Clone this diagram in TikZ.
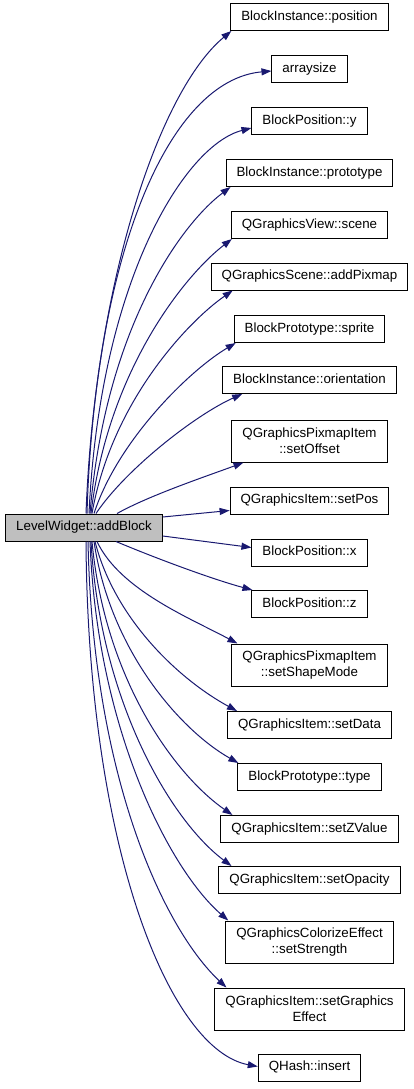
\documentclass[tikz,border=0pt]{standalone}
\usepackage{fontspec}
\setmainfont{Liberation Sans}
\usetikzlibrary{arrows.meta,calc}
\definecolor{edgec}{HTML}{191970}
\definecolor{mainfill}{HTML}{BFBFBF}
\begin{document}
\begin{tikzpicture}[x=1pt,y=-1pt,
 box/.style={draw=black,line width=1pt,fill=white,inner xsep=10.5pt,inner ysep=0pt,minimum height=27pt,text height=9.6pt,text depth=2.8pt,font=\fontsize{13.33}{16}\selectfont},
 boxtwo/.style={draw=black,line width=1pt,fill=white,inner xsep=10.5pt,inner ysep=0pt,minimum height=42pt,align=center,font=\fontsize{13.33}{16}\selectfont},
 edge/.style={draw=edgec,line width=1pt,-{Triangle[length=10pt,width=7pt]}}]
\useasboundingbox (0,0) rectangle (413,1089);
\node[box,fill=mainfill] (main) at (84,527.5) {LevelWidget::addBlock};
\node[box] (pos) at (309.5,17) {BlockInstance::position};
\node[box] (arr) at (309.5,69) {arraysize};
\node[box] (by) at (309.5,121) {BlockPosition::y};
\node[box] (proto) at (309.5,173) {BlockInstance::prototype};
\node[box] (scene) at (309.5,225) {QGraphicsView::scene};
\node[box] (addpix) at (309.5,276.5) {QGraphicsScene::addPixmap};
\node[box] (sprite) at (309.5,329) {BlockPrototype::sprite};
\node[box] (orient) at (309.5,380) {BlockInstance::orientation};
\node[boxtwo] (offset) at (309.5,441) {QGraphicsPixmapItem\\::setOffset};
\node[box] (setpos) at (309.5,500.5) {QGraphicsItem::setPos};
\node[box] (bx) at (309.5,552.5) {BlockPosition::x};
\node[box] (bz) at (309.5,604) {BlockPosition::z};
\node[boxtwo] (shape) at (309.5,665) {QGraphicsPixmapItem\\::setShapeMode};
\node[box] (data) at (309.5,725) {QGraphicsItem::setData};
\node[box] (type) at (309.5,777) {BlockPrototype::type};
\node[box] (zval) at (309.5,829) {QGraphicsItem::setZValue};
\node[box] (opac) at (309.5,880) {QGraphicsItem::setOpacity};
\node[boxtwo] (stren) at (309.5,942) {QGraphicsColorizeEffect\\::setStrength};
\node[boxtwo] (geff) at (309.5,1009) {QGraphicsItem::setGraphics\\Effect};
\node[box] (ins) at (309.5,1067.5) {QHash::insert};
% upper edges
\draw[edge] ($(main.north)+(2,0)$) .. controls (95,280) and (160,90) .. ($(pos.south west)+(1,0)$);
\draw[edge] ($(main.north)+(3,0)$) .. controls (95,250) and (170,80) .. ($(arr.west)+(0,2)$);
\draw[edge] ($(main.north)+(5,0)$) .. controls (100,280) and (185,145) .. ($(by.west)+(0,7)$);
\draw[edge] ($(main.north)+(6,0)$) .. controls (105,330) and (180,225) .. ($(proto.south west)+(5,0)$);
\draw[edge] ($(main.north)+(7,0)$) .. controls (108,370) and (185,275) .. ($(scene.south west)+(1,0)$);
\draw[edge] ($(main.north)+(8,0)$) .. controls (112,400) and (190,320) .. ($(addpix.south west)+(22,0)$);
\draw[edge] ($(main.north)+(10,0)$) .. controls (118,440) and (190,370) .. ($(sprite.south west)+(2,0)$);
\draw[edge] ($(main.north)+(12,0)$) .. controls (125,470) and (195,415) .. ($(orient.south west)+(20,0)$);
\draw[edge] ($(main.north)+(33,0)$) .. controls (150,495) and (210,475) .. ($(offset.south west)+(12,0)$);
% side edges
\draw[edge] ($(main.east)+(0,-10.5)$) -- ($(setpos.west)+(0,10)$);
\draw[edge] ($(main.east)+(0,8.5)$) -- ($(bx.west)+(0,-5)$);
% lower edges
\draw[edge] ($(main.south)+(32,0)$) .. controls (160,560) and (215,580) .. ($(bz.north west)+(1,0)$);
\draw[edge] ($(main.south)+(13,0)$) .. controls (120,590) and (190,618) .. ($(shape.north west)+(6,0)$);
\draw[edge] ($(main.south)+(11,0)$) .. controls (115,620) and (180,680) .. ($(data.north west)+(10,0)$);
\draw[edge] ($(main.south)+(10,0)$) .. controls (110,650) and (180,730) .. ($(type.north west)+(1,0)$);
\draw[edge] ($(main.south)+(8,0)$) .. controls (105,680) and (175,775) .. ($(zval.north west)+(12,0)$);
\draw[edge] ($(main.south)+(7,0)$) .. controls (100,700) and (170,820) .. ($(opac.north west)+(13,0)$);
\draw[edge] ($(main.south)+(6,0)$) .. controls (97,730) and (170,870) .. ($(stren.north west)+(3,0)$);
\draw[edge] ($(main.south)+(4,0)$) .. controls (93,780) and (165,930) .. ($(geff.north west)+(12,0)$);
\draw[edge] ($(main.south)+(2,0)$) .. controls (88,850) and (170,1050) .. ($(ins.west)+(0,-1)$);
\end{tikzpicture}
\end{document}
